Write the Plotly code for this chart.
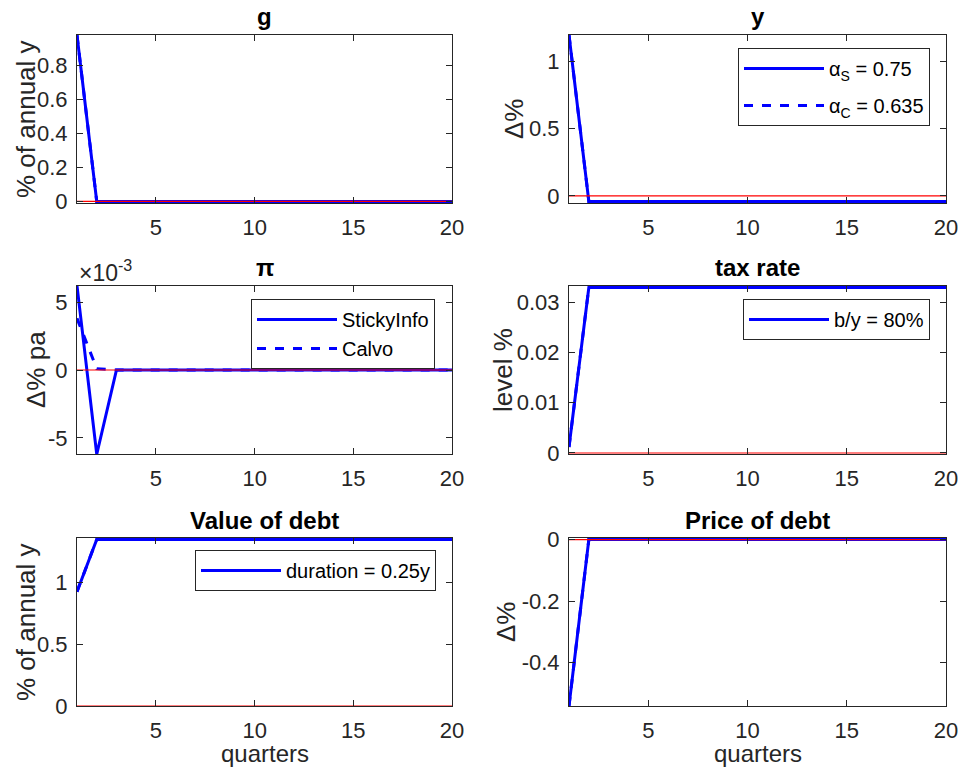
import plotly.graph_objects as go

# ---------------- data ----------------
quarters = [1, 2, 3, 4, 5, 6, 7, 8, 9, 10, 11, 12, 13, 14, 15, 16, 17, 18, 19, 20]
zero_line = [0, 0, 0, 0, 0, 0, 0, 0, 0, 0, 0, 0, 0, 0, 0, 0, 0, 0, 0, 0]

g_sticky = [0.98, 0, 0, 0, 0, 0, 0, 0, 0, 0, 0, 0, 0, 0, 0, 0, 0, 0, 0, 0]
g_calvo = [0.98, 0, 0, 0, 0, 0, 0, 0, 0, 0, 0, 0, 0, 0, 0, 0, 0, 0, 0, 0]

y_sticky = [1.196, -0.042, -0.042, -0.042, -0.042, -0.042, -0.042, -0.042, -0.042, -0.042,
            -0.042, -0.042, -0.042, -0.042, -0.042, -0.042, -0.042, -0.042, -0.042, -0.042]
y_calvo = [1.196, -0.042, -0.042, -0.042, -0.042, -0.042, -0.042, -0.042, -0.042, -0.042,
           -0.042, -0.042, -0.042, -0.042, -0.042, -0.042, -0.042, -0.042, -0.042, -0.042]

pi_sticky = [0.0062, -0.0062, 0, 0, 0, 0, 0, 0, 0, 0, 0, 0, 0, 0, 0, 0, 0, 0, 0, 0]
pi_calvo = [0.0038, 0.0001, 0, 0, 0, 0, 0, 0, 0, 0, 0, 0, 0, 0, 0, 0, 0, 0, 0, 0]

tax_sticky = [0.0012, 0.0329, 0.0329, 0.0329, 0.0329, 0.0329, 0.0329, 0.0329, 0.0329, 0.0329,
              0.0329, 0.0329, 0.0329, 0.0329, 0.0329, 0.0329, 0.0329, 0.0329, 0.0329, 0.0329]
tax_calvo = [0.0012, 0.0329, 0.0329, 0.0329, 0.0329, 0.0329, 0.0329, 0.0329, 0.0329, 0.0329,
             0.0329, 0.0329, 0.0329, 0.0329, 0.0329, 0.0329, 0.0329, 0.0329, 0.0329, 0.0329]

debt_sticky = [0.927, 1.351, 1.351, 1.351, 1.351, 1.351, 1.351, 1.351, 1.351, 1.351,
               1.351, 1.351, 1.351, 1.351, 1.351, 1.351, 1.351, 1.351, 1.351, 1.351]
debt_calvo = [0.927, 1.351, 1.351, 1.351, 1.351, 1.351, 1.351, 1.351, 1.351, 1.351,
              1.351, 1.351, 1.351, 1.351, 1.351, 1.351, 1.351, 1.351, 1.351, 1.351]

price_sticky = [-0.541, 0, 0, 0, 0, 0, 0, 0, 0, 0, 0, 0, 0, 0, 0, 0, 0, 0, 0, 0]
price_calvo = [-0.541, 0, 0, 0, 0, 0, 0, 0, 0, 0, 0, 0, 0, 0, 0, 0, 0, 0, 0, 0]

titles = ["g", "y", "π", "tax rate", "Value of debt", "Price of debt"]
ylabels = ["% of annual y", "Δ%", "Δ% pa", "level %", "% of annual y", "Δ%"]
xlabel = "quarters"
x_ticks = [5, 10, 15, 20]

# ---------------- layout geometry (pixels of the 962x773 window) ----------------
W, H = 962, 773
FONT = "Liberation Sans, Arial, Helvetica, sans-serif"
AX = "#262626"
BLUE = "#0000FF"
RED = "#FF0000"

cols = [(77, 452), (569, 946)]
rows = [(35, 203), (286, 454), (538, 706)]

def px_x(p):
    return p / W

def px_y(p):
    return 1 - p / H

panels = [
    dict(data=(g_sticky, g_calvo), yr=[-0.009, 0.981], tv=[0, 0.2, 0.4, 0.6, 0.8],
         tt=["0", "0.2", "0.4", "0.6", "0.8"], legend=None, ylab_x=26),
    dict(data=(y_sticky, y_calvo), yr=[-0.053, 1.196], tv=[0, 0.5, 1],
         tt=["0", "0.5", "1"], legend=("legend2", ["α<sub>S</sub> = 0.75", "α<sub>C</sub> = 0.635"]),
         ylab_x=514),
    dict(data=(pi_sticky, pi_calvo), yr=[-0.00618, 0.00618], tv=[-0.005, 0, 0.005],
         tt=["-5", "0", "5"], legend=("legend3", ["StickyInfo", "Calvo"]), ylab_x=36),
    dict(data=(tax_sticky, tax_calvo), yr=[-0.0002, 0.0332], tv=[0, 0.01, 0.02, 0.03],
         tt=["0", "0.01", "0.02", "0.03"], legend=("legend4", ["b/y = 80%", None]), ylab_x=503),
    dict(data=(debt_sticky, debt_calvo), yr=[0, 1.363], tv=[0, 0.5, 1],
         tt=["0", "0.5", "1"], legend=("legend5", ["duration = 0.25y", None]), ylab_x=26),
    dict(data=(price_sticky, price_calvo), yr=[-0.541, 0.005], tv=[-0.4, -0.2, 0],
         tt=["-0.4", "-0.2", "0"], legend=None, ylab_x=506),
]

fig = go.Figure()
annotations = []
layout_axes = {}

for i, p in enumerate(panels):
    r, c = divmod(i, 2)
    x0, x1 = cols[c]
    y0, y1 = rows[r]
    k = "" if i == 0 else str(i + 1)
    xa, ya = "x" + k, "y" + k
    sticky, calvo = p["data"]
    leg = p["legend"]
    legname = leg[0] if leg else None
    names = leg[1] if leg else [None, None]

    fig.add_trace(go.Scatter(
        x=quarters, y=sticky, mode="lines", xaxis=xa, yaxis=ya,
        line=dict(color=BLUE, width=3), name=names[0] or "",
        showlegend=bool(leg and names[0]), legend=legname or "legend",
        legendgroup="a%d" % i, hoverinfo="skip"))
    fig.add_trace(go.Scatter(
        x=quarters, y=calvo, mode="lines", xaxis=xa, yaxis=ya,
        line=dict(color=BLUE, width=3, dash="dash"), name=names[1] or "",
        showlegend=bool(leg and names[1]), legend=legname or "legend",
        legendgroup="b%d" % i, hoverinfo="skip"))
    fig.add_trace(go.Scatter(
        x=quarters, y=zero_line, mode="lines", xaxis=xa, yaxis=ya,
        line=dict(color=RED, width=1.2), showlegend=False, hoverinfo="skip"))

    layout_axes["xaxis" + k] = dict(
        domain=[px_x(x0), px_x(x1)], anchor=ya, range=[1, 20],
        tickvals=x_ticks, ticktext=[str(t) for t in x_ticks],
        ticks="inside", ticklen=6, tickcolor=AX, tickwidth=1,
        showline=True, linecolor=AX, linewidth=1, mirror="ticks",
        showgrid=False, zeroline=False, ticklabeloverflow="allow",
        tickfont=dict(family=FONT, size=22, color=AX), ticklabelstandoff=5)
    layout_axes["yaxis" + k] = dict(
        domain=[px_y(y1), px_y(y0)], anchor=xa, range=p["yr"],
        tickvals=p["tv"], ticktext=p["tt"],
        ticks="inside", ticklen=6, tickcolor=AX, tickwidth=1,
        showline=True, linecolor=AX, linewidth=1, mirror="ticks",
        showgrid=False, zeroline=False,
        tickfont=dict(family=FONT, size=22, color=AX), ticklabelstandoff=4)

    # title
    annotations.append(dict(
        text="<b>" + titles[i] + "</b>", x=px_x((x0 + x1) / 2), y=px_y(y0 - 18),
        xref="paper", yref="paper", xanchor="center", yanchor="middle",
        showarrow=False, font=dict(family=FONT, size=24, color="#000000")))
    # y label
    annotations.append(dict(
        text=ylabels[i], x=px_x(p["ylab_x"]), y=px_y((y0 + y1) / 2),
        xref="paper", yref="paper", xanchor="center", yanchor="middle",
        textangle=-90, showarrow=False,
        font=dict(family=FONT, size=26, color=AX)))
    if r == 2:
        annotations.append(dict(
            text=xlabel, x=px_x((x0 + x1) / 2), y=px_y(753),
            xref="paper", yref="paper", xanchor="center", yanchor="middle",
            showarrow=False, font=dict(family=FONT, size=24, color=AX)))

# exponent label for pi panel
annotations.append(dict(
    text="×10<sup>-3</sup>", x=px_x(77), y=px_y(271),
    xref="paper", yref="paper", xanchor="left", yanchor="middle",
    showarrow=False, font=dict(family=FONT, size=23, color=AX)))

legend_style = dict(bgcolor="white", bordercolor=AX, borderwidth=1,
                    font=dict(family=FONT, size=20, color="#000000"),
                    xanchor="right", yanchor="top", itemwidth=80,
                    xref="paper", yref="paper")

fig.update_layout(
    width=W, height=H,
    margin=dict(l=0, r=0, t=0, b=0, pad=0, autoexpand=False),
    paper_bgcolor="white", plot_bgcolor="white",
    showlegend=True,
    annotations=annotations,
    legend=dict(visible=False),
    legend2=dict(x=px_x(930), y=px_y(48), tracegroupgap=8, **legend_style),
    legend3=dict(x=px_x(435), y=px_y(299), tracegroupgap=0, **legend_style),
    legend4=dict(x=px_x(930), y=px_y(299), **legend_style),
    legend5=dict(x=px_x(436), y=px_y(550), **legend_style),
    **layout_axes,
)

fig.write_html(
    "out.html",
    config={"displayModeBar": False},
    post_script="document.body.style.margin='0';document.body.style.overflow='hidden';",
)
